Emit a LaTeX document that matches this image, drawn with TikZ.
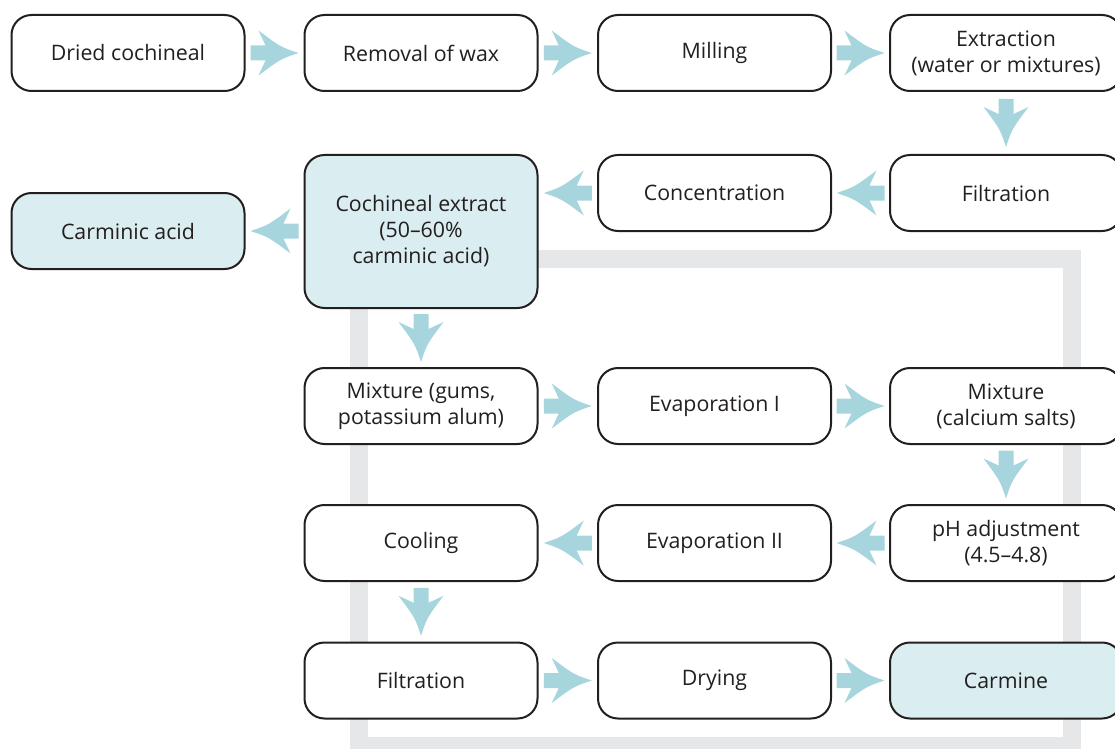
\documentclass[tikz,border=0pt]{standalone}
\usepackage{fontspec}
\setmainfont{Open Sans}
\definecolor{arrowblue}{HTML}{A6D5DE}
\definecolor{paleblue}{HTML}{DAEDF0}
\definecolor{framegray}{HTML}{E6E7E8}
\definecolor{ink}{HTML}{231F20}
\tikzset{
  stepbox/.style={draw=ink, line width=1.5pt, rounded corners=15pt, fill=white,
    minimum width=174.75pt, minimum height=57pt, inner sep=0pt, align=center,
    font=\fontsize{16}{19.5}\selectfont, text=ink},
  product/.style={stepbox, fill=paleblue},
  pics/fatarrow/.style={code={
    \fill[arrowblue] (-24,7.5) -- (-9,7.5) -- (-16,22.5)
      .. controls (6,6) .. (24,0)
      .. controls (6,-6) .. (-16,-22.5) -- (-9,-7.5) -- (-24,-7.5) -- cycle;}},
}
\begin{document}
\begin{tikzpicture}[x=0.75pt, y=-0.75pt]
  \useasboundingbox (0,0) rectangle (1115,749);
  \clip (0,0) rectangle (1115,749);

  % grey loop behind the carmine route
  \draw[framegray, line width=13.5pt] (358.5,259) rectangle (1072,746);

  % first row
  \node[stepbox] (dried) at (128,53) {Dried cochineal};
  \node[stepbox] (wax) at (421,53) {Removal of wax};
  \node[stepbox] (mill) at (714.5,53) {Milling};
  \node[stepbox, minimum width=174pt] (extr) at (1006,53) {Extraction\\(water or mixtures)};

  % second row
  \node[stepbox, minimum width=174pt] (filt1) at (1006,193) {Filtration};
  \node[stepbox] (conc) at (714.5,193) {Concentration};
  \node[product, minimum height=114.75pt] (extract) at (421,231.5) {Cochineal extract\\(50--60\%\\carminic acid)};
  \node[product] (acid) at (128,231) {Carminic acid};

  % third row
  \node[stepbox] (mixg) at (421,406) {Mixture (gums,\\potassium alum)};
  \node[stepbox] (evap1) at (714.5,406) {Evaporation I};
  \node[stepbox, minimum width=174pt] (mixc) at (1006,406) {Mixture\\(calcium salts)};

  % fourth row
  \node[stepbox, minimum width=174pt] (ph) at (1006,543) {pH adjustment\\(4.5--4.8)};
  \node[stepbox] (evap2) at (714.5,543) {Evaporation II};
  \node[stepbox] (cool) at (421,543) {Cooling};

  % fifth row
  \node[stepbox] (filt2) at (421,680.5) {Filtration};
  \node[stepbox] (dry) at (714.5,680.5) {Drying};
  \node[product, minimum width=174pt] (carmine) at (1006,680.5) {Carmine};

  % block arrows between the steps
  \path (dried.east) -- (wax.west) pic[pos=.5]{fatarrow};
  \path (wax.east) -- (mill.west) pic[pos=.5]{fatarrow};
  \path (mill.east) -- (extr.west) pic[pos=.5]{fatarrow};
  \path (extr.south) -- (filt1.north) pic[pos=.5, rotate=-90]{fatarrow};
  \path (filt1.west) -- (conc.east) pic[pos=.5, rotate=180]{fatarrow};
  \path (conc.west) -- (extract.east |- conc.west) pic[pos=.5, rotate=180]{fatarrow};
  \path (extract.west |- acid.east) -- (acid.east) pic[pos=.5, rotate=180]{fatarrow};
  \path (extract.south) -- (mixg.north) pic[pos=.5, rotate=-90]{fatarrow};
  \path (mixg.east) -- (evap1.west) pic[pos=.5]{fatarrow};
  \path (evap1.east) -- (mixc.west) pic[pos=.5]{fatarrow};
  \path (mixc.south) -- (ph.north) pic[pos=.5, rotate=-90]{fatarrow};
  \path (ph.west) -- (evap2.east) pic[pos=.5, rotate=180]{fatarrow};
  \path (evap2.west) -- (cool.east) pic[pos=.5, rotate=180]{fatarrow};
  \path (cool.south) -- (filt2.north) pic[pos=.5, rotate=-90]{fatarrow};
  \path (filt2.east) -- (dry.west) pic[pos=.5]{fatarrow};
  \path (dry.east) -- (carmine.west) pic[pos=.5]{fatarrow};
\end{tikzpicture}
\end{document}
